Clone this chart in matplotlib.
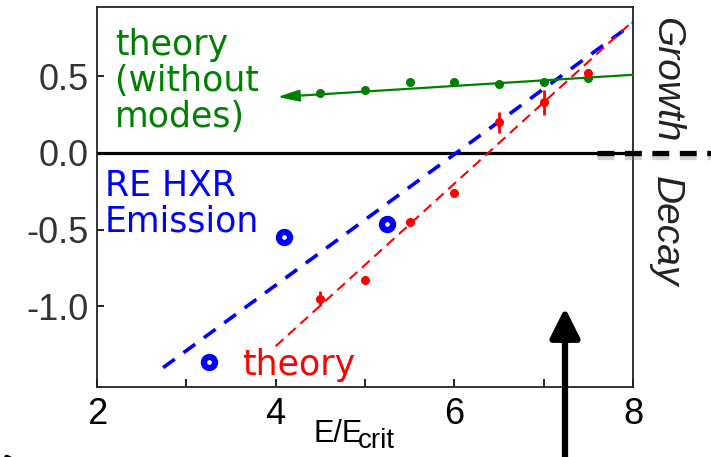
import matplotlib
matplotlib.use("Agg")
import matplotlib.pyplot as plt
import matplotlib.patheffects as pe
from matplotlib.lines import Line2D

plt.rcParams["axes.unicode_minus"] = False

# growth rate vs E/Ecrit
e_pts = [4.5, 5.0, 5.5, 6.0, 6.5, 7.0, 7.5]
growth_nomodes = [0.39, 0.41, 0.46, 0.46, 0.45, 0.46, 0.49]
growth_theory = [-0.95, -0.83, -0.45, -0.26, 0.20, 0.33, 0.52]
growth_theory_err = [0.05, 0.0, 0.0, 0.0, 0.07, 0.08, 0.02]

# measured RE HXR emission
e_hxr = [3.25, 4.09, 5.25]
growth_hxr = [-1.36, -0.55, -0.46]

# fitted lines (end points)
fit_hxr_e = [2.74, 8.0]
fit_hxr_y = [-1.40, 0.845]
fit_theory_e = [4.0, 8.0]
fit_theory_y = [-1.26, 0.86]
nomodes_e = [4.02, 8.0]
nomodes_y = [0.365, 0.51]

W, H = 711, 457
fig = plt.figure(figsize=(W / 100, H / 100), dpi=100)
ax = fig.add_axes([97 / W, 1 - 387 / H, (633 - 97) / W, (387 - 7) / H])

GREEN = "#008000"
sans = "Liberation Sans"
txt = "DejaVu Sans"

ax.axhline(0, color="black", lw=2.3, zorder=2)

ax.plot(fit_hxr_e, fit_hxr_y, color="blue", lw=2.6, dashes=(4, 3), zorder=3)
ax.plot(fit_theory_e, fit_theory_y, color="red", lw=1.5, dashes=(5, 3), zorder=3)

ax.annotate("", xy=(nomodes_e[0], nomodes_y[0]), xytext=(nomodes_e[1], nomodes_y[1]),
            arrowprops=dict(arrowstyle="-|>,head_length=1.3,head_width=0.35",
                            color=GREEN, lw=1.6, shrinkA=0, shrinkB=0), zorder=4)
ax.plot(e_pts, growth_nomodes, "o", color=GREEN, ms=5.5, zorder=5)

ax.errorbar(e_pts, growth_theory, yerr=growth_theory_err, fmt="o", color="red",
            ms=5.5, elinewidth=2, capsize=0, zorder=5)

ax.plot(e_hxr, growth_hxr, "o", mfc="white", mec="blue", mew=4.5, ms=8, zorder=6)

ax.text(2.2, 0.17, "theory\n(without\nmodes)", color=GREEN, fontsize=25,
        family=txt, va="baseline", linespacing=1.08)
ax.text(2.09, -0.515, "RE HXR\nEmission", color="blue", fontsize=25,
        family=txt, va="baseline", linespacing=1.08)
ax.text(3.62, -1.45, "theory", color="red", fontsize=25, family=txt, va="baseline")

ax.set_xlim(2, 8)
ax.set_ylim(-1.526, 0.952)
ax.set_xticks([2, 3, 4, 5, 6, 7, 8])
ax.set_xticklabels(["2", "", "4", "", "6", "", "8"])
ax.set_yticks([0.5, 0.0, -0.5, -1.0])
ax.set_yticklabels(["0.5", "0.0", "-0.5", "-1.0"])
ax.tick_params(axis="x", direction="in", length=6, width=1.2, pad=7,
               labelsize=26, labelcolor="black")
ax.tick_params(axis="y", direction="in", length=5, width=1.2, pad=6,
               labelsize=26, labelcolor="#333333")
for lab in ax.get_xticklabels() + ax.get_yticklabels():
    lab.set_family(sans)
for sp in ax.spines.values():
    sp.set_linewidth(1.3)
    sp.set_color("#222222")

fig.text(313 / W, 1 - 442 / H, "E/E", fontsize=22, family=sans, va="baseline")
fig.text(358 / W, 1 - 448 / H, "crit", fontsize=20, family=sans, va="baseline")

# growth / decay divider on the right
shadow = [pe.SimpleLineShadow(offset=(0, -3), shadow_color="gray", alpha=0.35), pe.Normal()]
fig.add_artist(Line2D([597 / W, 1.0], [1 - 153 / H] * 2, color="black", lw=3.8,
                      dashes=(3.2, 2.0), transform=fig.transFigure,
                      path_effects=shadow, zorder=10))
fig.text(666 / W, 1 - 80 / H, "Growth", rotation=-90, fontsize=28, style="italic",
         family=sans, ha="center", va="center", color="#222222")
fig.text(666 / W, 1 - 231 / H, "Decay", rotation=-90, fontsize=28, style="italic",
         family=sans, ha="center", va="center", color="#222222")

# big arrow from below
fig.add_artist(matplotlib.patches.FancyArrowPatch(
    (565 / W, -0.02), (565 / W, 1 - 305 / H), transform=fig.transFigure,
    arrowstyle="-|>,head_length=9,head_width=4.5", mutation_scale=2,
    color="black", lw=4.5,
    path_effects=[pe.SimplePatchShadow(offset=(2, -2), shadow_rgbFace="gray", alpha=0.3), pe.Normal()]))
fig.add_artist(matplotlib.patches.FancyArrowPatch(
    (25 / W, -0.05), (2 / W, 1 - 451 / H), transform=fig.transFigure,
    arrowstyle="-|>,head_length=6,head_width=3", mutation_scale=2,
    color="black", lw=3))

fig.savefig("out.png", dpi=100)
